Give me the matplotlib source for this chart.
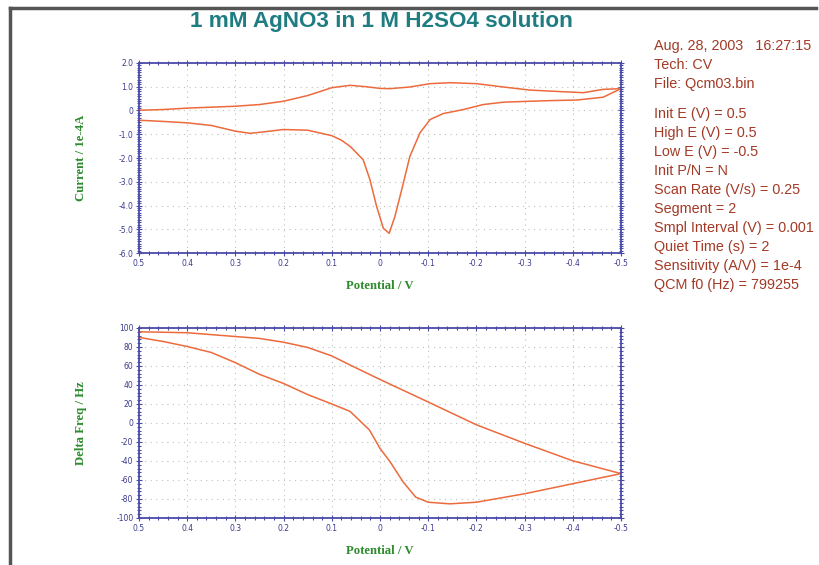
import numpy as np
import matplotlib
matplotlib.use("Agg")
import matplotlib.pyplot as plt
from matplotlib.ticker import MultipleLocator, AutoMinorLocator
from matplotlib.lines import Line2D

# CV, cathodic scan 0.5 -> -0.5 V (current in 1e-4 A)
cv_fwd_e = [0.5, 0.45, 0.4, 0.35, 0.3, 0.27, 0.25, 0.2, 0.15, 0.1, 0.08, 0.062, 0.035,
            0.021, 0.007, -0.007, -0.019, -0.031, -0.045, -0.062, -0.083, -0.104,
            -0.131, -0.173, -0.214, -0.256, -0.311, -0.36, -0.408, -0.463, -0.5]
cv_fwd_i = [-0.41, -0.46, -0.52, -0.63, -0.87, -0.96, -0.92, -0.80, -0.83, -1.06, -1.25,
            -1.51, -2.07, -2.9, -4.04, -4.96, -5.17, -4.46, -3.34, -1.93, -0.94, -0.38,
            -0.13, 0.04, 0.25, 0.35, 0.39, 0.42, 0.44, 0.56, 0.92]
# CV, return scan -0.5 -> 0.5 V
cv_rev_e = [-0.5, -0.463, -0.422, -0.38, -0.311, -0.256, -0.2, -0.145, -0.104, -0.062,
            -0.021, 0.0, 0.028, 0.062, 0.1, 0.15, 0.2, 0.25, 0.3, 0.35, 0.4, 0.45, 0.5]
cv_rev_i = [0.92, 0.89, 0.75, 0.79, 0.86, 0.99, 1.13, 1.17, 1.13, 0.99, 0.92, 0.93, 1.0,
            1.06, 0.96, 0.63, 0.39, 0.25, 0.18, 0.14, 0.10, 0.04, 0.01]

# QCM frequency shift (Hz)
qcm_fwd_e = [0.5, 0.4, 0.3, 0.25, 0.2, 0.15, 0.1, 0.062, 0.0, -0.1, -0.2, -0.3, -0.4, -0.5]
qcm_fwd_f = [96, 95, 91, 89, 85, 79.5, 70.6, 61, 45.8, 22.1, -1.9, -21.4, -39.8, -53.3]
qcm_rev_e = [-0.5, -0.4, -0.3, -0.2, -0.145, -0.1, -0.074, -0.048, -0.021, 0.0, 0.022,
             0.062, 0.1, 0.15, 0.2, 0.25, 0.3, 0.35, 0.4, 0.45, 0.5]
qcm_rev_f = [-53.3, -63.9, -74.5, -83.4, -85.1, -83.4, -78, -62, -40.9, -26.7, -7.3,
             12.2, 20, 29.9, 41.6, 51.2, 63.5, 74.2, 80.5, 85.8, 90.1]

info_lines = ["Aug. 28, 2003   16:27:15", "Tech: CV", "File: Qcm03.bin", "",
              "Init E (V) = 0.5", "High E (V) = 0.5", "Low E (V) = -0.5",
              "Init P/N = N", "Scan Rate (V/s) = 0.25", "Segment = 2",
              "Smpl Interval (V) = 0.001", "Quiet Time (s) = 2",
              "Sensitivity (A/V) = 1e-4", "QCM f0 (Hz) = 799255"]

line_c = "#ec6a3c"
axis_c = "#4a4aa8"
lab_c = "#2e8b2e"

fig = plt.figure(figsize=(8.2, 5.65), dpi=100)
ax1 = fig.add_axes([0.1695, 0.5522, 0.5878, 0.3363])
ax2 = fig.add_axes([0.1695, 0.0832, 0.5878, 0.3363])


def style(ax, ylo, yhi, ystep, yminor, ylabel, fmt):
    ax.set_xlim(0.5, -0.5)
    ax.set_ylim(ylo, yhi)
    ax.xaxis.set_major_locator(MultipleLocator(0.1))
    ax.xaxis.set_minor_locator(AutoMinorLocator(5))
    ax.yaxis.set_major_locator(MultipleLocator(ystep))
    ax.yaxis.set_minor_locator(AutoMinorLocator(yminor))
    ax.set_xticks(np.arange(0.5, -0.51, -0.1))
    ax.set_xticklabels(["0.5", "0.4", "0.3", "0.2", "0.1", "0", "-0.1", "-0.2",
                        "-0.3", "-0.4", "-0.5"])
    yt = np.arange(ylo, yhi + ystep / 2, ystep)
    ax.set_yticks(yt)
    ax.set_yticklabels([fmt(v) for v in yt])
    for s in ax.spines.values():
        s.set_color(axis_c)
        s.set_linewidth(1.3)
    ax.tick_params(which="both", direction="inout", colors=axis_c, top=True,
                   right=True, labelsize=5.5, labelcolor="#3a3a90")
    ax.tick_params(which="major", length=4, width=0.8, pad=2)
    ax.tick_params(which="minor", length=2.5, width=0.8)
    ax.grid(True, which="major", color="#b8c4b8", linestyle=(0, (1, 4)), linewidth=0.8)
    ax.set_xlabel("Potential / V", family="Liberation Serif", fontweight="bold",
                  fontsize=9.2, color=lab_c, labelpad=9)
    ax.set_ylabel(ylabel, family="Liberation Serif", fontweight="bold",
                  fontsize=9.2, color=lab_c)
    ax.yaxis.set_label_coords(-0.108, 0.5)


style(ax1, -6.0, 2.0, 1.0, 10, "Current / 1e-4A",
      lambda v: "0" if abs(v) < 1e-9 else "%.1f" % v)
style(ax2, -100, 100, 20, 5, "Delta Freq / Hz", lambda v: "%d" % round(v))

ax1.plot(cv_fwd_e, cv_fwd_i, color=line_c, lw=1.1)
ax1.plot(cv_rev_e, cv_rev_i, color=line_c, lw=1.1)
ax2.plot(qcm_fwd_e, qcm_fwd_f, color=line_c, lw=1.1)
ax2.plot(qcm_rev_e, qcm_rev_f, color=line_c, lw=1.1)

fig.text(0.465, 1 - 21 / 565, "1 mM AgNO3 in 1 M H2SO4 solution", ha="center", va="center",
         family="Liberation Sans", fontweight="bold", fontsize=16.2, color="#1f7d82")

y0 = 1 - 46 / 565
for k, t in enumerate(info_lines):
    if t:
        fig.text(654 / 820, y0 - k * 19.0 / 565 + (8.0 / 565 if k > 3 else 0), t,
                 ha="left", va="center", family="Liberation Sans", fontsize=10.4,
                 color="#a33a26")

# frame lines of the original window
fig.add_artist(Line2D([10 / 820, 816 / 820], [1 - 8 / 565, 1 - 8 / 565],
                      color="#555555", lw=2.5))
fig.add_artist(Line2D([10 / 820, 10 / 820], [1 - 8 / 565, 0], color="#555555", lw=2.5))

fig.savefig("out.png", dpi=100)
